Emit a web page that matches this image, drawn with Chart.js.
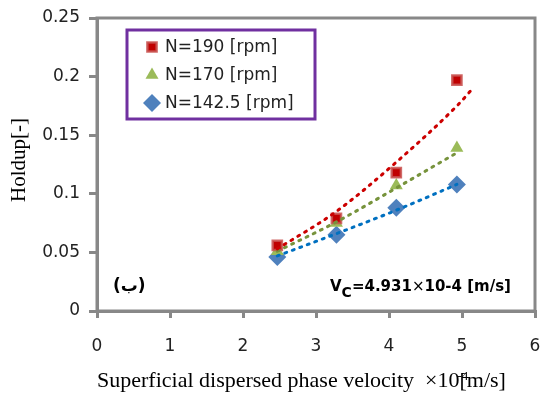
<!DOCTYPE html>
<html>
<head>
<meta charset="utf-8">
<script src="https://cdn.jsdelivr.net/npm/chart.js@4"></script>
<style>
html, body { margin: 0; padding: 0; background: #fff; }
#wrap { width: 544px; height: 394px; }
</style>
</head>
<body>
<div id="wrap"><canvas id="chart"></canvas></div>
<script>
// measured points
const velocity = [2.47, 3.28, 4.1, 4.93]
const holdup190 = [0.056, 0.079, 0.118, 0.197]
const holdup170 = [0.051, 0.075, 0.107, 0.139]
const holdup142 = [0.046, 0.065, 0.088, 0.108]
// trendlines
const trendX190 = [2.47, 3.28, 4.1, 4.93, 5.15]
const trend190 = [0.053, 0.085, 0.127, 0.175, 0.19]
const trendX = [2.47, 3.28, 4.1, 4.93]
const trend170 = [0.051, 0.076, 0.105, 0.135]
const trend142 = [0.047, 0.066, 0.086, 0.108]
const seriesLabels = ['N=190 [rpm]', 'N=170 [rpm]', 'N=142.5 [rpm]']
const yTicks = [0, 0.05, 0.1, 0.15, 0.2, 0.25]
const xTicks = [0, 1, 2, 3, 4, 5, 6]

const pts = (xs, ys) => xs.map((x, i) => ({x, y: ys[i]}))

const trend = (xs, ys, color) => ({
	data: pts(xs, ys),
	showLine: true,
	borderColor: color,
	borderWidth: 3,
	borderDash: [2, 6],
	borderCapStyle: 'round',
	pointRadius: 0,
	cubicInterpolationMode: 'monotone',
	order: 0
})

const markers = [
	{pointStyle: 'rect', pointRadius: 6.5, pointBackgroundColor: '#C00000', pointBorderColor: 'rgba(200,80,77,0.85)', pointBorderWidth: 2.5},
	{pointStyle: 'triangle', pointRadius: 7.5, pointBackgroundColor: '#9BBB59', pointBorderColor: '#9BBB59', pointBorderWidth: 0},
	{pointStyle: 'rectRot', pointRadius: 9, pointBackgroundColor: '#4F81BD', pointBorderColor: '#4F81BD', pointBorderWidth: 0},
]

const boxPlugin = {
	id: 'box',
	beforeDatasetsDraw(chart) {
		const {ctx, chartArea: a} = chart
		ctx.save()
		ctx.strokeStyle = '#888'
		ctx.lineWidth = 3
		ctx.strokeRect(a.left, a.top, a.right - a.left, a.bottom - a.top)
		ctx.restore()
	}
}

const extrasPlugin = {
	id: 'extras',
	afterDraw(chart) {
		const ctx = chart.ctx
		ctx.save()
		// legend box
		ctx.strokeStyle = '#7030A0'
		ctx.lineWidth = 3
		ctx.strokeRect(127, 30, 188, 89)
		const rows = [47, 75, 103]
		markers.forEach((m, i) => {
			ctx.fillStyle = m.pointBackgroundColor
			ctx.strokeStyle = m.pointBorderColor
			ctx.lineWidth = m.pointBorderWidth
			Chart.helpers.drawPoint(ctx, {pointStyle: m.pointStyle, radius: m.pointRadius, rotation: 0, borderWidth: m.pointBorderWidth}, 152, rows[i])
			ctx.fillStyle = '#222'
			ctx.font = "17px 'DejaVu Sans'"
			ctx.textBaseline = 'middle'
			ctx.textAlign = 'left'
			ctx.fillText(seriesLabels[i], 165, rows[i] + 1)
		})
		// panel letter
		ctx.fillStyle = '#000'
		ctx.font = "bold 17px 'DejaVu Sans'"
		ctx.textBaseline = 'alphabetic'
		ctx.fillText('(ب)', 113, 291)
		// continuous phase velocity
		let x = 330
		const put = (t, font, dy) => {
			ctx.font = font
			ctx.fillText(t, x, 291 + dy)
			x += ctx.measureText(t).width
		}
		put('V', "bold 15px 'DejaVu Sans'", 0)
		put('C', "bold 14px 'DejaVu Sans'", 6)
		put('=4.931', "bold 15px 'DejaVu Sans'", 0)
		put('\u00d7', "15px 'DejaVu Sans'", 0)
		put('10-4 [m/s]', "bold 15px 'DejaVu Sans'", 0)
		// x title
		x = 97
		put('Superficial dispersed phase velocity  \u00d710', "22px 'Liberation Serif'", 96)
		ctx.font = "13px 'Liberation Serif'"
		ctx.fillText('-4', x - 2, 380)
		put('[m/s]', "22px 'Liberation Serif'", 96)
		// y title
		ctx.translate(25, 160)
		ctx.rotate(-Math.PI / 2)
		ctx.font = "21px 'Liberation Serif'"
		ctx.textAlign = 'center'
		ctx.fillText('Holdup[-]', 0, 0)
		ctx.restore()
	}
}

const tickFont = {family: 'DejaVu Sans', size: 17}

new Chart(document.getElementById('chart'), {
	type: 'scatter',
	data: {
		datasets: [
			trend(trendX190, trend190, '#CC0000'),
			trend(trendX, trend170, '#77933C'),
			trend(trendX, trend142, '#0070C0'),
			{label: seriesLabels[0], data: pts(velocity, holdup190), order: 1, ...markers[0]},
			{label: seriesLabels[1], data: pts(velocity, holdup170), order: 1, ...markers[1]},
			{label: seriesLabels[2], data: pts(velocity, holdup142), order: 1, ...markers[2]},
		]
	},
	options: {
		responsive: true,
		maintainAspectRatio: false,
		animation: false,
		layout: {padding: {top: 18, right: 8, left: 0, bottom: 0}},
		plugins: {legend: {display: false}, tooltip: {enabled: false}},
		scales: {
			x: {
				min: 0, max: 6,
				afterBuildTicks: s => { s.ticks = xTicks.map(v => ({value: v})) },
				afterFit: s => { s.height = 83; s.paddingLeft = 0; s.paddingRight = 0 },
				ticks: {font: tickFont, color: '#222', padding: 18, maxRotation: 0},
				grid: {drawOnChartArea: false, drawTicks: true, tickLength: 7, color: '#888', lineWidth: 3},
				border: {color: '#888', width: 3}
			},
			y: {
				min: 0, max: 0.25,
				afterBuildTicks: s => { s.ticks = yTicks.map(v => ({value: v})) },
				afterFit: s => { s.width = 97; s.paddingTop = 0; s.paddingBottom = 0 },
				ticks: {font: tickFont, color: '#222', padding: 9, callback: v => String(v)},
				grid: {drawOnChartArea: false, drawTicks: true, tickLength: 8, color: '#888', lineWidth: 3},
				border: {color: '#888', width: 3}
			}
		}
	},
	plugins: [boxPlugin, extrasPlugin]
})
</script>
</body>
</html>
